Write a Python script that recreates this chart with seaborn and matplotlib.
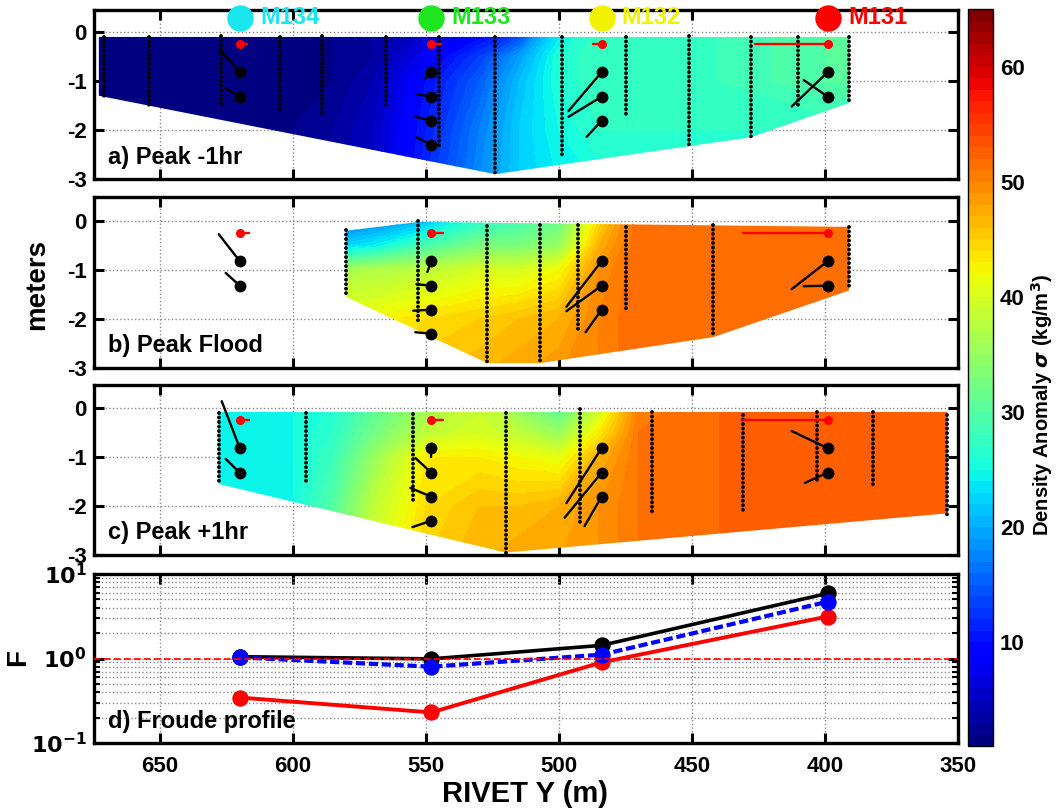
import numpy as np
import matplotlib
matplotlib.use("Agg")
import matplotlib.pyplot as plt
import seaborn as sns
import pandas as pd
from matplotlib.patches import Polygon
from matplotlib.ticker import FuncFormatter, LogLocator, NullFormatter
from matplotlib.colors import Normalize
from matplotlib.cm import ScalarMappable

# ---------------- data ----------------
grid_x = [675, 600, 585, 570, 550, 530, 515, 500, 485, 470, 440, 400, 350]
grid_z = [0.2, -0.5, -1.0, -2.0, -3.2]

sigma_a = [[2, 2, 2, 3, 5, 7, 10, 22, 27, 28, 28, 30, 31],
           [2, 2, 2, 3, 8, 13, 19, 26, 28, 28, 28, 30, 31],
           [2, 2, 2, 4, 10, 15, 21, 26, 28, 28, 28, 30, 31],
           [2, 2, 3, 5, 11, 17, 22, 25, 27, 27, 27, 27, 27],
           [2, 2, 3, 5, 12, 18, 22, 24, 25, 25, 25, 25, 25]]
sigma_b = [[14, 14, 14, 15, 18, 24, 27, 30, 43, 52, 52, 52, 52],
           [22, 22, 22, 24, 29, 33, 33, 35, 47, 52, 52, 52, 52],
           [36, 36, 36, 37, 38, 40, 40, 42, 49, 52, 52, 52, 52],
           [42, 42, 42, 42, 44, 45, 46, 47, 50, 52, 52, 52, 52],
           [44, 44, 44, 44, 46, 47, 48, 49, 50, 52, 52, 52, 52]]
sigma_c = [[25, 25, 26, 30, 35, 38, 33, 28, 37, 50, 52, 53, 53],
           [25, 25, 27, 32, 38, 40, 38, 35, 43, 51, 52, 53, 53],
           [25, 25, 28, 35, 43, 43, 42, 41, 47, 51, 52, 53, 53],
           [25, 25, 30, 38, 44, 46, 46, 47, 49, 51, 52, 53, 53],
           [25, 25, 32, 40, 45, 47, 48, 48, 49, 51, 52, 53, 53]]

region_a_x = [673, 391, 391, 428, 524, 673]
region_a_z = [-0.1, -0.1, -1.45, -2.15, -2.9, -1.3]
region_b_x = [580, 553, 391, 391, 442, 507, 527, 580]
region_b_z = [-0.2, -0.02, -0.12, -1.42, -2.37, -2.9, -2.9, -1.55]
region_c_x = [628, 354, 354, 520, 628]
region_c_z = [-0.08, -0.08, -2.15, -2.95, -1.55]

cast_a_x = [671, 654, 627, 605, 589, 565, 545, 524, 499, 475, 451, 428, 410, 391]
cast_a_top = [-0.1, -0.1, -0.08, -0.1, -0.08, -0.1, -0.1, -0.1, -0.1, -0.1, -0.08, -0.1, -0.1, -0.1]
cast_a_bot = [-1.35, -1.53, -1.5, -1.6, -1.65, -1.58, -2.32, -2.9, -2.5, -1.76, -2.3, -2.14, -1.5, -1.45]
cast_b_x = [580, 553, 527, 507, 493, 475, 442, 391]
cast_b_top = [-0.18, 0.0, -0.1, -0.08, -0.08, -0.12, -0.08, -0.12]
cast_b_bot = [-1.55, -2.08, -2.9, -2.9, -2.22, -1.86, -2.37, -1.41]
cast_c_x = [628, 595, 555, 520, 492, 465, 431, 403, 382, 354]
cast_c_top = [-0.1, -0.1, -0.12, -0.1, -0.02, -0.08, -0.14, -0.08, -0.08, -0.14]
cast_c_bot = [-1.55, -1.55, -1.94, -2.96, -2.33, -2.12, -2.08, -1.47, -1.61, -2.18]

moor_names = ["M134", "M133", "M132", "M131"]
moor_colors = ["#19e6ee", "#1ee61e", "#f2f200", "#ff0000"]
moor_x = [620, 548, 484, 399]
bin_depths = [[-0.82, -1.32], [-0.82, -1.32, -1.81, -2.3], [-0.82, -1.32, -1.81], [-0.82, -1.32]]
surf_depth = -0.25

stick_end_x_a = [[627.5, 625.3], [550.3, 553.3, 554.0, 553.6], [496.4, 496.4, 489.6], [412.5, 408.0]]
stick_end_z_a = [[-0.35, -1.15], [-0.95, -1.27, -1.73, -2.15], [-1.61, -1.73, -2.14], [-1.52, -0.98]]
surf_end_x_a = [617.4, 544.2, 487.4, 426.5]
stick_end_x_b = [[627.9, 625.3], [549.5, 553.6, 554.8, 554.0], [497.2, 497.2, 490.0], [412.5, 408.0]]
stick_end_z_b = [[-0.27, -1.06], [-1.04, -1.29, -1.83, -2.27], [-1.75, -1.84, -2.27], [-1.39, -1.33]]
surf_end_x_b = [616.6, 543.5, None, 431.0]
stick_end_x_c = [[626.8, 625.3], [548.0, 554.0, 555.9, 555.1], [497.2, 497.9, 490.4], [412.5, 407.6]]
stick_end_z_c = [[0.14, -1.04], [-1.0, -1.02, -1.63, -2.43], [-1.94, -2.24, -2.41], [-0.47, -1.53]]
surf_end_x_c = [616.6, 543.5, None, 431.0]

froude_x = [620, 548, 484, 399]
froude_black = [1.05, 0.99, 1.43, 5.9]
froude_blue = [1.03, 0.80, 1.11, 4.7]
froude_red = [0.345, 0.23, 0.90, 3.14]

panel_titles = ["a) Peak -1hr", "b) Peak Flood", "c) Peak +1hr", "d) Froude profile"]
x_ticks = [650, 600, 550, 500, 450, 400, 350]
z_ticks = [0, -1, -2, -3]
cbar_ticks = [10, 20, 30, 40, 50, 60]
sigma_min, sigma_max = 1, 65

# ---------------- style ----------------
sns.set_theme(style="ticks")
plt.rcParams["font.family"] = ["Liberation Sans", "DejaVu Sans"]
plt.rcParams["font.weight"] = "bold"
plt.rcParams["axes.unicode_minus"] = False
for key in ["text.color", "axes.labelcolor", "xtick.color", "ytick.color", "axes.edgecolor"]:
    plt.rcParams[key] = "black"

W, H = 1060, 808
fig = plt.figure(figsize=(W / 100, H / 100), dpi=100)

def fa(left, top, right, bottom):
    return [left / W, 1 - bottom / H, (right - left) / W, (bottom - top) / H]

ax_a = fig.add_axes(fa(93.5, 10, 958, 179))
ax_b = fig.add_axes(fa(93.5, 197, 958, 368))
ax_c = fig.add_axes(fa(93.5, 385, 958, 555))
ax_d = fig.add_axes(fa(93.5, 574, 958, 743))
cax = fig.add_axes(fa(968, 9, 993, 746))

cmap = plt.get_cmap("jet", 64)
levels = np.linspace(sigma_min, sigma_max, 65)
grid_col = "#8a8a8a"

def style_axes(ax, ylim):
    ax.set_xlim(675, 350)
    ax.set_ylim(*ylim)
    ax.set_xticks(x_ticks)
    ax.set_xticklabels([])
    ax.set_yticks(z_ticks)
    ax.set_yticklabels([str(t) for t in z_ticks])
    ax.set_axisbelow(True)
    ax.grid(True, linestyle=":", color=grid_col, linewidth=1.0)
    ax.tick_params(direction="in", length=7, width=2.2, top=True, right=True,
                   labelsize=16, pad=5, colors="black")
    for s in ax.spines.values():
        s.set_linewidth(2.4)
        s.set_color("black")

panels = [
    (ax_a, sigma_a, region_a_x, region_a_z, cast_a_x, cast_a_top, cast_a_bot,
     stick_end_x_a, stick_end_z_a, surf_end_x_a, (-3, 0.45)),
    (ax_b, sigma_b, region_b_x, region_b_z, cast_b_x, cast_b_top, cast_b_bot,
     stick_end_x_b, stick_end_z_b, surf_end_x_b, (-3, 0.49)),
    (ax_c, sigma_c, region_c_x, region_c_z, cast_c_x, cast_c_top, cast_c_bot,
     stick_end_x_c, stick_end_z_c, surf_end_x_c, (-3, 0.47)),
]

X, Z = np.meshgrid(grid_x, grid_z)
for i, (ax, sig, rx, rz, cx, ctop, cbot, sex, sez, srx, ylim) in enumerate(panels):
    style_axes(ax, ylim)
    cs = ax.contourf(X, Z, np.array(sig, float), levels=levels, cmap=cmap,
                     vmin=sigma_min, vmax=sigma_max, zorder=1)
    patch = Polygon(np.column_stack([rx, rz]), closed=True, facecolor="none",
                    edgecolor="none", transform=ax.transData)
    ax.add_patch(patch)
    cs.set_clip_path(patch)
    # CTD casts
    for x, t, b in zip(cx, ctop, cbot):
        ax.plot([x, x], [t, b], color="black", lw=2.8, linestyle=(0, (0.01, 1.15)),
                dash_capstyle="round", zorder=3)
    # velocity sticks
    for m, x0 in enumerate(moor_x):
        for z0, xe, ze in zip(bin_depths[m], sex[m], sez[m]):
            ax.plot([x0, xe], [z0, ze], color="black", lw=1.7, zorder=4)
            ax.plot([x0], [z0], "o", color="black", ms=7.5, zorder=5)
        if srx[m] is not None:
            ax.plot([x0, srx[m]], [surf_depth, surf_depth], color="#ff0000", lw=1.7, zorder=4)
            ax.plot([x0], [surf_depth], "o", color="#ff0000", ms=5.5, zorder=5)
    ax.text(0.017, 0.13, panel_titles[i], transform=ax.transAxes, fontsize=17,
            fontweight="bold", ha="left", va="center", color="black", zorder=6)

# mooring labels above panel a
for name, col, x0 in zip(moor_names, moor_colors, moor_x):
    ax_a.plot([x0], [0.29], "o", color=col, ms=18, clip_on=False, zorder=6)
    ax_a.text(x0 - 7.6, 0.29, name, color=col, fontsize=17, fontweight="bold",
              ha="left", va="center", zorder=6)

# ---------------- Froude panel ----------------
ax = ax_d
ax.set_yscale("log")
ax.set_xlim(675, 350)
ax.set_ylim(0.1, 10)
ax.set_xticks(x_ticks)
ax.set_xticklabels([str(t) for t in x_ticks])
ax.yaxis.set_major_locator(LogLocator(base=10))
ax.yaxis.set_minor_locator(LogLocator(base=10, subs=np.arange(2, 10)))
ax.yaxis.set_minor_formatter(NullFormatter())
ax.yaxis.set_major_formatter(FuncFormatter(
    lambda v, p: r"$\mathbf{10^{%d}}$" % int(round(np.log10(v)))))
ax.set_axisbelow(True)
ax.grid(True, which="both", axis="y", linestyle=":", color=grid_col, linewidth=1.0)
ax.grid(True, which="major", axis="x", linestyle=":", color=grid_col, linewidth=1.0)
ax.tick_params(which="major", direction="in", length=7, width=2.2, top=True, right=True,
               labelsize=16, colors="black")
ax.tick_params(axis="y", which="major", pad=5)
ax.tick_params(axis="x", which="major", pad=9)
ax.tick_params(which="minor", direction="in", length=4, width=1.5, left=True, right=True)
for s in ax.spines.values():
    s.set_linewidth(2.4)
    s.set_color("black")

df = pd.DataFrame({"x": froude_x, "black": froude_black,
                   "blue": froude_blue, "red": froude_red})
sns.lineplot(data=df, x="x", y="black", ax=ax, color="black", lw=2.6, marker="o",
             markersize=11, markeredgecolor="black", errorbar=None, sort=False, zorder=3)
sns.lineplot(data=df, x="x", y="blue", ax=ax, color="#0000ff", lw=3.0, linestyle=(0, (2.2, 0.9)),
             marker="o", markersize=11, markeredgecolor="#0000ff", errorbar=None, sort=False, zorder=4)
sns.lineplot(data=df, x="x", y="red", ax=ax, color="#ff0000", lw=2.8, marker="o",
             markersize=11, markeredgecolor="#ff0000", errorbar=None, sort=False, zorder=3)
ax.axhline(1.0, color="#ff0000", lw=1.2, linestyle=(0, (4, 2)), zorder=6)
ax.set_xlabel("")
ax.set_ylabel("")
ax.text(0.017, 0.13, panel_titles[3], transform=ax.transAxes, fontsize=17,
        fontweight="bold", ha="left", va="center", color="black", zorder=7)

# ---------------- colorbar ----------------
sm = ScalarMappable(norm=Normalize(sigma_min, sigma_max), cmap=cmap)
cb = fig.colorbar(sm, cax=cax, ticks=cbar_ticks)
cb.ax.set_yticklabels([str(t) for t in cbar_ticks])
cb.ax.tick_params(labelsize=16, direction="in", length=6, width=1.0, left=True,
                  right=True, pad=5, colors="black")
cb.outline.set_linewidth(1.0)
fig.text(1042 / W, 1 - 405 / H, r"Density Anomaly $\sigma$ (kg/m$^3$)", rotation=90,
         ha="center", va="center", fontsize=14.5, fontweight="bold", color="black")

# ---------------- shared labels ----------------
fig.text(37 / W, 1 - 285 / H, "meters", rotation=90, ha="center", va="center",
         fontsize=20, fontweight="bold", color="black")
fig.text(18 / W, 1 - 658 / H, "F", rotation=90, ha="center", va="center",
         fontsize=20, fontweight="bold", color="black")
fig.text(525 / W, 1 - 794 / H, "RIVET Y (m)", ha="center", va="center",
         fontsize=21, fontweight="bold", color="black")

fig.savefig("out.png", dpi=100)
